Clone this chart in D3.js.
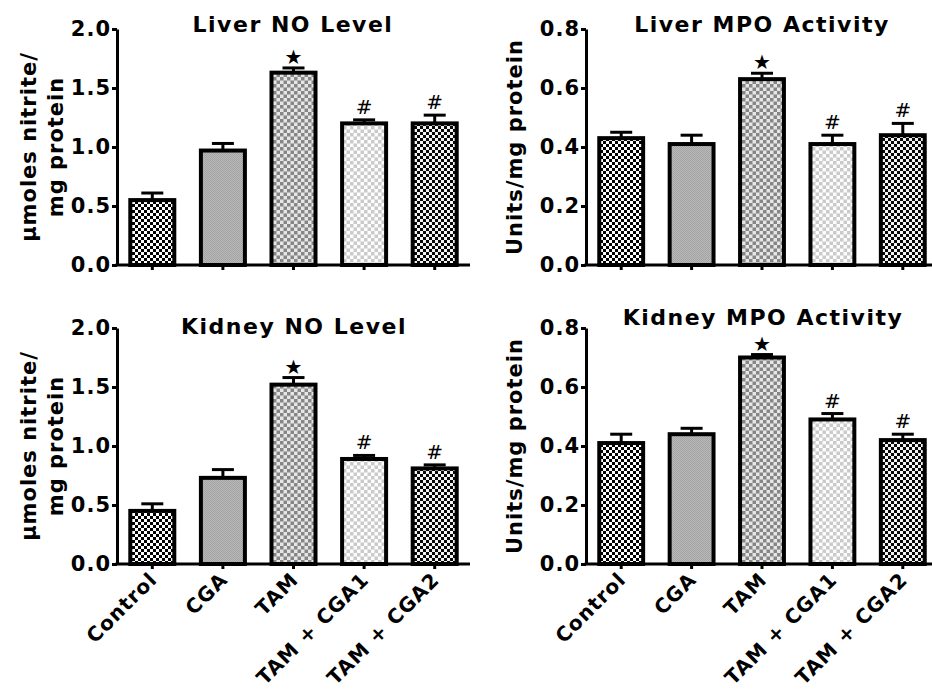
<!DOCTYPE html>
<meta charset="utf-8">
<style>
body { margin: 0; background: #fff; }
text { font-family: "DejaVu Sans", sans-serif; font-weight: bold; fill: #000; }
.axis path, .axis line { stroke: #000; stroke-width: 3px; }
.axis text { font-size: 21px; letter-spacing: 1px; }
.bar { stroke: #000; stroke-width: 4px; }
.err { stroke: #000; stroke-width: 3px; }
</style>
<body>
<script src="https://d3js.org/d3.v7.min.js"></script>
<script>

// groups on the x axis
var categories = ["Control", "CGA", "TAM", "TAM + CGA1", "TAM + CGA2"];
// significance marks above bars
var marks = ["", "", "\u2605", "#", "#"];

// liver NO level (umoles nitrite / mg protein)
var liverNO    = [0.55, 0.97, 1.63, 1.20, 1.20];
var liverNOErr = [0.06, 0.06, 0.04, 0.03, 0.07];
// liver MPO activity (units / mg protein)
var liverMPO    = [0.43, 0.41, 0.63, 0.41, 0.44];
var liverMPOErr = [0.02, 0.03, 0.02, 0.03, 0.04];
// kidney NO level
var kidneyNO    = [0.45, 0.73, 1.52, 0.89, 0.81];
var kidneyNOErr = [0.06, 0.07, 0.06, 0.03, 0.03];
// kidney MPO activity
var kidneyMPO    = [0.41, 0.44, 0.70, 0.49, 0.42];
var kidneyMPOErr = [0.03, 0.02, 0.01, 0.02, 0.02];

var noTicks  = [0, 0.5, 1.0, 1.5, 2.0];
var mpoTicks = [0, 0.2, 0.4, 0.6, 0.8];

var svg = d3.select("body").append("svg")
    .attr("width", 932)
    .attr("height", 697);

// fill patterns for the five groups
var defs = svg.append("defs");
function checker(id, size, bg, fg) {
  var p = defs.append("pattern")
      .attr("id", id)
      .attr("width", size * 2)
      .attr("height", size * 2)
      .attr("patternUnits", "userSpaceOnUse");
  p.append("rect").attr("width", size * 2).attr("height", size * 2).attr("fill", bg);
  p.append("rect").attr("width", size).attr("height", size).attr("fill", fg);
  p.append("rect").attr("x", size).attr("y", size).attr("width", size).attr("height", size).attr("fill", fg);
}
checker("p0", 3, "#fff", "#000");
checker("p1", 1, "#b8b8b8", "#a4a4a4");
checker("p2", 3.5, "#e6e6e6", "#868686");
checker("p3", 3.5, "#fdfdfd", "#cacaca");
checker("p4", 3, "#f4f4f4", "#080808");
var fills = ["url(#p0)", "url(#p1)", "url(#p2)", "url(#p3)", "url(#p4)"];

function panel(opt) {
  var x = d3.scaleBand()
      .domain(categories)
      .range(opt.xr)
      .paddingInner(0.32)
      .paddingOuter(0.16);
  var y = d3.scaleLinear()
      .domain([0, opt.max])
      .range(opt.yr);

  var g = svg.append("g");

  // bars
  g.selectAll(".bar")
      .data(opt.values)
    .enter().append("rect")
      .attr("class", "bar")
      .attr("x", function(d, i) { return x(categories[i]) + 2; })
      .attr("width", x.bandwidth() - 4)
      .attr("y", function(d) { return y(d); })
      .attr("height", function(d) { return y(0) - y(d); })
      .attr("fill", function(d, i) { return fills[i]; });

  // error bars (upper only)
  var cx = function(i) { return x(categories[i]) + x.bandwidth() / 2; };
  g.selectAll(".errv")
      .data(opt.values)
    .enter().append("line")
      .attr("class", "err")
      .attr("x1", function(d, i) { return cx(i); })
      .attr("x2", function(d, i) { return cx(i); })
      .attr("y1", function(d) { return y(d); })
      .attr("y2", function(d, i) { return y(d + opt.errs[i]); });
  g.selectAll(".errc")
      .data(opt.values)
    .enter().append("line")
      .attr("class", "err")
      .attr("x1", function(d, i) { return cx(i) - 11; })
      .attr("x2", function(d, i) { return cx(i) + 11; })
      .attr("y1", function(d, i) { return y(d + opt.errs[i]); })
      .attr("y2", function(d, i) { return y(d + opt.errs[i]); });

  // significance marks
  g.selectAll(".mark")
      .data(opt.values)
    .enter().append("text")
      .attr("x", function(d, i) { return cx(i); })
      .attr("y", function(d, i) { return y(d + opt.errs[i]) - (marks[i] == "#" ? 6 : 4); })
      .style("text-anchor", "middle")
      .style("font-size", function(d, i) { return marks[i] == "#" ? "20px" : "20px"; })
      .style("font-weight", "normal")
      .text(function(d, i) { return marks[i]; });

  // axes
  g.append("g")
      .attr("class", "axis")
      .attr("transform", "translate(" + opt.xr[0] + ",0)")
      .call(d3.axisLeft(y).tickValues(opt.ticks).tickSize(5).tickSizeOuter(0)
        .tickFormat(d3.format(".1f")))
      .selectAll("text").attr("x", -6);

  var xa = g.append("g")
      .attr("class", "axis")
      .attr("transform", "translate(0," + opt.yr[0] + ")")
      .call(d3.axisBottom(x).tickSize(5).tickSizeOuter(0));
  xa.select(".domain").attr("d", "M" + (opt.xr[0] - 1.5) + ",0H" + opt.xr[1]);
  if (opt.labels) {
    xa.selectAll("text")
        .style("text-anchor", "end")
        .style("font-size", "20px")
        .style("letter-spacing", "1px")
        .attr("x", 0).attr("y", 0).attr("dy", "0.35em")
        .attr("transform", "translate(1,12) rotate(-45)");
  } else {
    xa.selectAll("text").remove();
  }

  // title
  g.append("text")
      .attr("x", opt.tx)
      .attr("y", opt.ty)
      .style("text-anchor", "middle")
      .style("font-size", "22px")
      .style("letter-spacing", "1.5px")
      .text(opt.title);

  // y axis label
  var mid = (opt.yr[0] + opt.yr[1]) / 2;
  opt.ylabel.forEach(function(s, k) {
    g.append("text")
        .attr("transform", "translate(" + opt.lx[k] + "," + mid + ") rotate(-90)")
        .style("text-anchor", "middle")
        .style("font-size", "21px")
        .style("letter-spacing", "1px")
        .text(s);
  });
}

panel({values: liverNO, errs: liverNOErr, max: 2, ticks: noTicks,
       xr: [117, 470], yr: [265, 29], title: "Liver NO Level", tx: 293, ty: 32,
       ylabel: ["\u03bcmoles nitrite/", "mg protein"], lx: [36, 63], labels: false});
panel({values: liverMPO, errs: liverMPOErr, max: 0.8, ticks: mpoTicks,
       xr: [586, 938], yr: [265, 29], title: "Liver MPO Activity", tx: 762, ty: 32,
       ylabel: ["Units/mg protein"], lx: [522], labels: false});
panel({values: kidneyNO, errs: kidneyNOErr, max: 2, ticks: noTicks,
       xr: [117, 470], yr: [564, 328], title: "Kidney NO Level", tx: 294, ty: 334,
       ylabel: ["\u03bcmoles nitrite/", "mg protein"], lx: [36, 63], labels: true});
panel({values: kidneyMPO, errs: kidneyMPOErr, max: 0.8, ticks: mpoTicks,
       xr: [586, 938], yr: [564, 328], title: "Kidney MPO Activity", tx: 763, ty: 325,
       ylabel: ["Units/mg protein"], lx: [522], labels: true});

</script>
</body>
